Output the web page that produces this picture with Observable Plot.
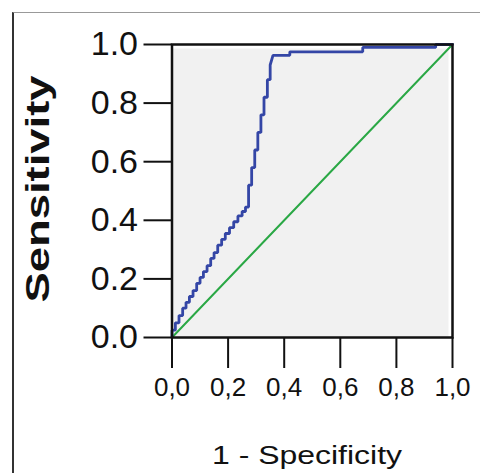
<!DOCTYPE html>
<html>
<head>
<meta charset="utf-8">
<script src="https://cdn.jsdelivr.net/npm/d3@7"></script>
<script src="https://cdn.jsdelivr.net/npm/@observablehq/plot@0.6"></script>
<style>
  html, body { margin: 0; padding: 0; background: #fff; }
  #wrap { position: relative; width: 480px; height: 473px; overflow: hidden; }
  #border { position: absolute; left: 12px; top: 12px; width: 480px; height: 470px;
            border-left: 2px solid #333; border-top: 1.5px solid #999; pointer-events: none; }
  svg text { font-family: "Liberation Sans", Arial, sans-serif; }
</style>
</head>
<body>
<div id="wrap"><div id="border"></div></div>
<script>
// ROC curve (1 - specificity, sensitivity)
const fpr = [0, 0, 0.012, 0.012, 0.025, 0.025, 0.038, 0.038, 0.05, 0.05, 0.062, 0.062, 0.075, 0.075,
  0.088, 0.088, 0.10, 0.10, 0.112, 0.112, 0.125, 0.125, 0.138, 0.138, 0.15, 0.15, 0.163, 0.163,
  0.177, 0.177, 0.19, 0.19, 0.205, 0.205, 0.22, 0.22, 0.235, 0.235, 0.25, 0.25, 0.262, 0.262, 0.273,
  0.273, 0.284, 0.284, 0.295, 0.295, 0.306, 0.306, 0.317, 0.317, 0.328, 0.328, 0.34, 0.34,
  0.35, 0.35, 0.36, 0.42, 0.42, 0.68, 0.68, 0.94, 0.94, 1];
const tpr = [0, 0.025, 0.025, 0.05, 0.05, 0.075, 0.075, 0.10, 0.10, 0.12, 0.12, 0.14, 0.14, 0.16,
  0.16, 0.185, 0.185, 0.205, 0.205, 0.225, 0.225, 0.245, 0.245, 0.27, 0.27, 0.29, 0.29, 0.315,
  0.315, 0.335, 0.335, 0.355, 0.355, 0.375, 0.375, 0.395, 0.395, 0.415, 0.415, 0.43, 0.43, 0.445, 0.445,
  0.52, 0.52, 0.58, 0.58, 0.64, 0.64, 0.70, 0.70, 0.76, 0.76, 0.82, 0.82, 0.88,
  0.88, 0.93, 0.963, 0.963, 0.975, 0.975, 0.99, 0.99, 1.0, 1.0];
const refX = [0, 1];
const refY = [0, 1];
const xTicks = [0, 0.2, 0.4, 0.6, 0.8, 1.0];
const yTicks = [0, 0.2, 0.4, 0.6, 0.8, 1.0];
const xLabel = "1 - Specificity";
const yLabel = "Sensitivity";

const roc = fpr.map((x, i) => ({x, y: tpr[i]}));
const ref = refX.map((x, i) => ({x, y: refY[i]}));

const chart = Plot.plot({
  width: 480,
  height: 473,
  marginLeft: 171.5,
  marginRight: 28,
  marginTop: 44,
  marginBottom: 136,
  style: { background: "transparent", overflow: "visible" },
  x: { domain: [0, 1] },
  y: { domain: [0, 1] },
  marks: [
    Plot.frame({ fill: "#f1f1f1", insetTop: 4, insetRight: 4 }),
    Plot.line(ref, { x: "x", y: "y", stroke: "#2aa845", strokeWidth: 2 }),
    Plot.line(roc, { x: "x", y: "y", stroke: "#3446a6", strokeWidth: 2.8, strokeLinejoin: "miter" }),
    Plot.axisY({ ticks: yTicks, tickSize: 28, tickPadding: 6, tickFormat: d => d.toFixed(1),
      fontSize: 34, stroke: "#111", strokeWidth: 2, fill: "#111", label: null }),
    Plot.axisX({ ticks: xTicks, tickSize: 31, tickPadding: 9, tickFormat: d => d.toFixed(1).replace(".", ","),
      fontSize: 26, stroke: "#111", strokeWidth: 2, fill: "#111", label: null }),
    Plot.frame({ stroke: "#111", strokeWidth: 2.5 }),
    Plot.text([yLabel], { frameAnchor: "left", dx: -123.5, dy: 111.5, rotate: -90, lineAnchor: "bottom",
      textAnchor: "start", fontSize: 34, fontWeight: "bold", fill: "#111", className: "ylab" }),
    Plot.text([xLabel], { frameAnchor: "bottom-left", dx: 40, dy: 126, lineAnchor: "bottom",
      textAnchor: "start", fontSize: 25, fill: "#111", className: "xlab" })
  ]
});

d3.select(chart).selectAll(".ylab text").attr("textLength", 227).attr("lengthAdjust", "spacingAndGlyphs");
d3.select(chart).selectAll(".xlab text").attr("textLength", 190).attr("lengthAdjust", "spacingAndGlyphs");

document.getElementById("wrap").prepend(chart);
</script>
</body>
</html>
